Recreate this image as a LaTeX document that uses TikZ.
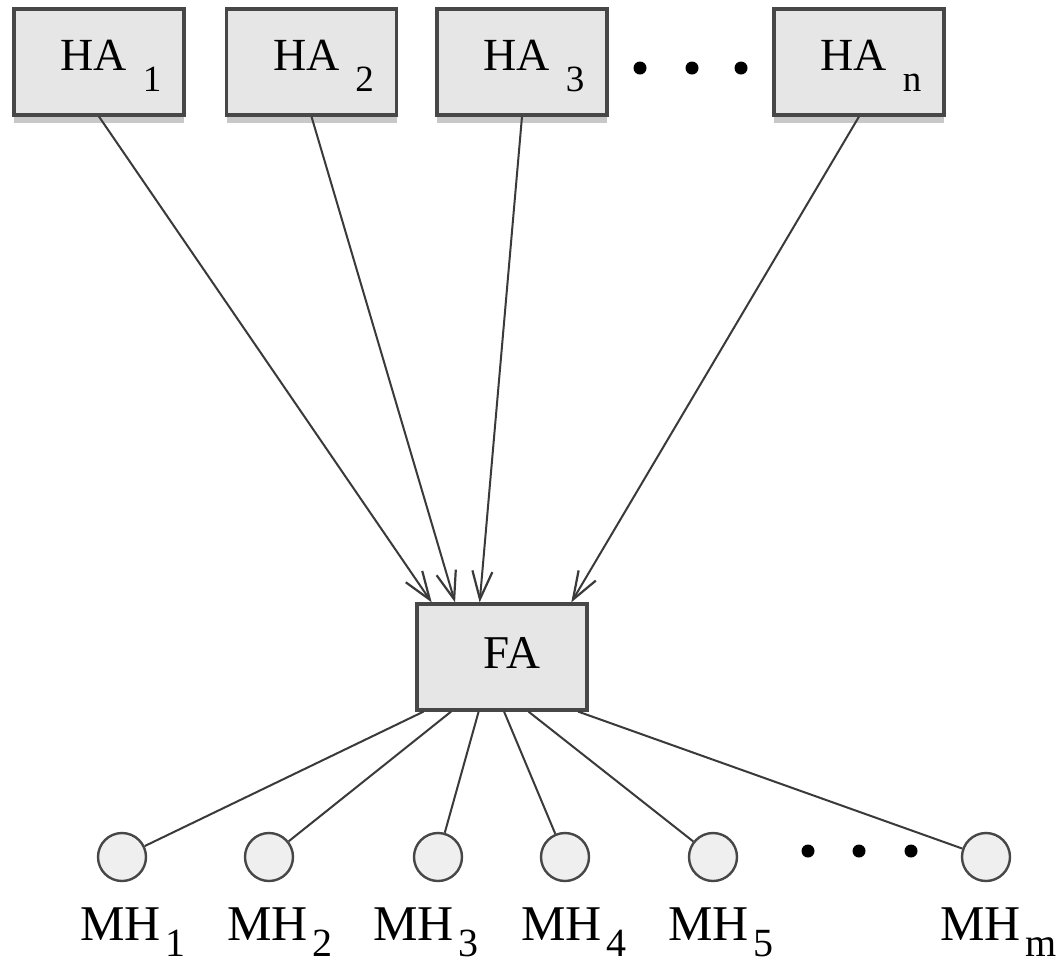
\documentclass[tikz,border=0pt]{standalone}
\usepackage{fontspec}
\setmainfont{Liberation Serif}
\usetikzlibrary{arrows.meta,calc,shadows}

\definecolor{boxfill}{HTML}{E6E6E6}
\definecolor{boxline}{HTML}{474747}
\definecolor{shadowgray}{HTML}{C8C8C8}
\definecolor{hostfill}{HTML}{EFEFEF}
\definecolor{wire}{HTML}{3A3A3A}

\newcommand{\halabel}[1]{\hspace{12pt}HA\hspace{8pt}\raisebox{-10.5pt}{\fontsize{18.5}{20}\selectfont #1}}
\newcommand{\mhlabel}[1]{MH\hspace{2.5pt}\raisebox{-8pt}{\fontsize{20}{21}\selectfont #1}}

\tikzset{
  agent/.style={rectangle,draw=boxline,line width=1.6pt,fill=boxfill,
    minimum width=85pt,minimum height=53pt,inner sep=0pt,
    font=\fontsize{23}{25}\selectfont},
  shadowed/.style={drop shadow={shadow xshift=0pt,shadow yshift=-4pt,
    fill=shadowgray,opacity=1},text height=19pt,text depth=10.5pt},
  host/.style={circle,draw=boxline,line width=1.2pt,fill=hostfill,
    minimum size=24pt,inner sep=0pt},
  hostname/.style={anchor=base west,inner sep=0pt,
    font=\fontsize{25}{27}\selectfont},
  ellipsisdot/.style={circle,fill=black,minimum size=6.5pt,inner sep=0pt},
  wireline/.style={draw=wire,line width=1pt},
  tunnel/.style={wireline,-{Straight Barb[length=14pt,width=10pt,line width=1.1pt]}}
}

\begin{document}
\begin{tikzpicture}[x=0.5pt,y=-0.5pt]

        \useasboundingbox[fill=white] (0,0) rectangle (1061,965);

        \begin{scope}[every node/.style={agent,shadowed}]
          \node (ha1) at (99,62)    {\halabel{1}};
          \node (ha2) at (311.5,62) {\halabel{2}};
          \node (ha3) at (522,62)   {\halabel{3}};
          \node (han) at (859,62)   {\halabel{n}};
        \end{scope}

        \node[agent,font=\fontsize{23.5}{25}\selectfont,text height=11pt,text depth=0pt] (fa) at (502,657) {\hspace{10pt}FA};

        \begin{scope}[every node/.style={ellipsisdot}]
          \node (td1) at (640,68) {};
          \node (td2) at (692,68) {};
          \node (td3) at (741,68) {};
          \node (bd1) at (808,851) {};
          \node (bd2) at (859,851) {};
          \node (bd3) at (911,851) {};
        \end{scope}

        \begin{scope}[every node/.style={host}]
          \node (mh1) at (122,857) {};
          \node (mh2) at (269,857) {};
          \node (mh3) at (438,857) {};
          \node (mh4) at (565,857) {};
          \node (mh5) at (713,857) {};
          \node (mhm) at (986,857) {};
        \end{scope}

        \begin{scope}[every node/.style={hostname}]
          \node (lab1) at (80,940)  {\mhlabel{1}};
          \node (lab2) at (227,940) {\mhlabel{2}};
          \node (lab3) at (373,940) {\mhlabel{3}};
          \node (lab4) at (521,940) {\mhlabel{4}};
          \node (lab5) at (668,940) {\mhlabel{5}};
          \node (labm) at (940,940) {\mhlabel{m}};
        \end{scope}

        \begin{scope}[every edge/.style={tunnel}]
          \path (ha1.south) edge ($(fa.north west)!0.094!(fa.north east)$);
          \path (ha2.south) edge ($(fa.north west)!0.229!(fa.north east)$);
          \path (ha3.south) edge ($(fa.north west)!0.371!(fa.north east)$);
          \path (han.south) edge ($(fa.north west)!0.9!(fa.north east)$);
        \end{scope}

        \begin{scope}[every edge/.style={wireline}]
          \path ($(fa.south west)!0.047!(fa.south east)$) edge (mh1);
          \path ($(fa.south west)!0.206!(fa.south east)$) edge (mh2);
          \path ($(fa.south west)!0.365!(fa.south east)$) edge (mh3);
          \path ($(fa.south west)!0.512!(fa.south east)$) edge (mh4);
          \path ($(fa.south west)!0.653!(fa.south east)$) edge (mh5);
          \path ($(fa.south west)!0.94!(fa.south east)$)  edge (mhm);
        \end{scope}

      \end{tikzpicture}
\end{document}
